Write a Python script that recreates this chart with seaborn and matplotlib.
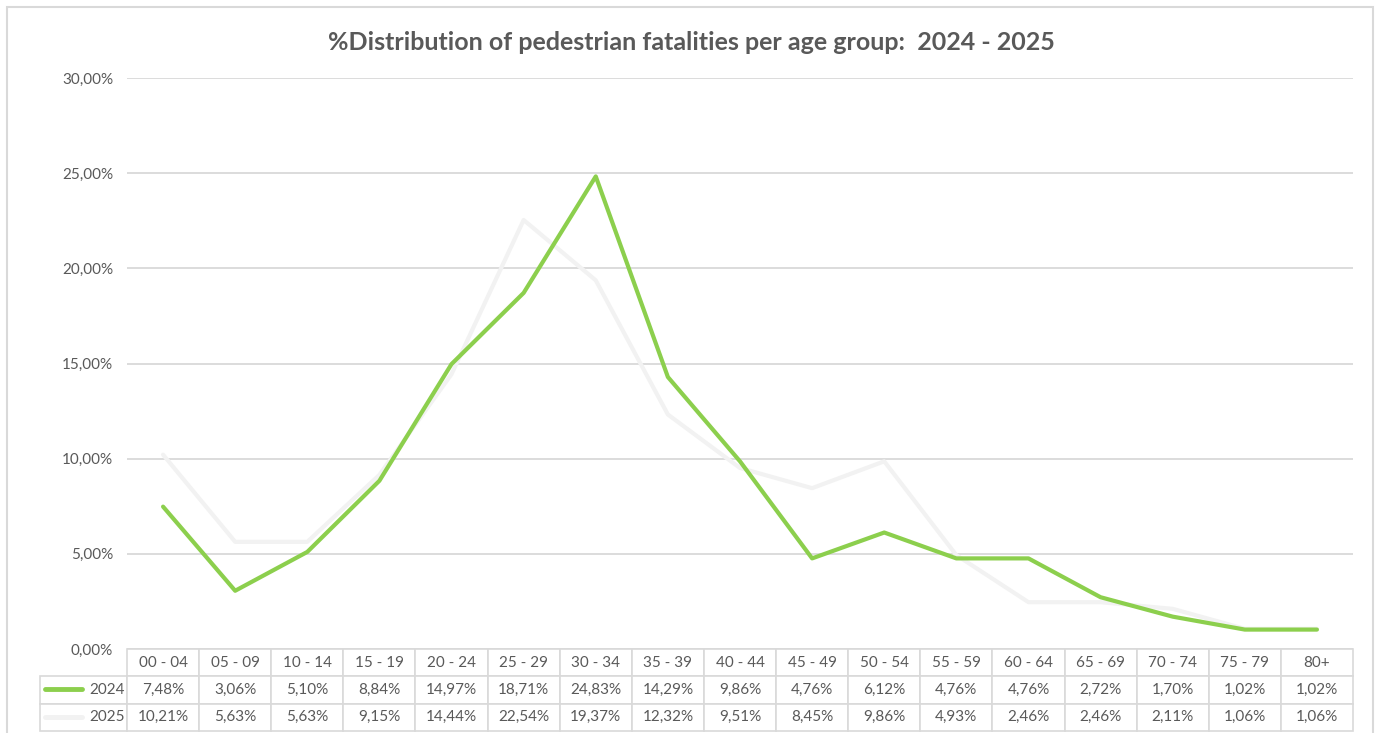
import matplotlib
matplotlib.use("Agg")
import matplotlib.pyplot as plt
from matplotlib.lines import Line2D
from matplotlib.patches import Rectangle
import matplotlib.ticker as mtick
import seaborn as sns
import pandas as pd

age_groups = ["00 - 04", "05 - 09", "10 - 14", "15 - 19", "20 - 24", "25 - 29", "30 - 34",
              "35 - 39", "40 - 44", "45 - 49", "50 - 54", "55 - 59", "60 - 64", "65 - 69",
              "70 - 74", "75 - 79", "80+"]
pct_2024 = [7.48, 3.06, 5.10, 8.84, 14.97, 18.71, 24.83, 14.29, 9.86, 4.76, 6.12, 4.76,
            4.76, 2.72, 1.70, 1.02, 1.02]
pct_2025 = [10.21, 5.63, 5.63, 9.15, 14.44, 22.54, 19.37, 12.32, 9.51, 8.45, 9.86, 4.93,
            2.46, 2.46, 2.11, 1.06, 1.06]
years = ["2024", "2025"]
colors = {"2024": "#8ccf4d", "2025": "#f2f2f2"}

sns.set_theme(style="white")
plt.rcParams['font.family'] = ['Lato', 'DejaVu Sans']
txt = "#595959"
grid = "#d9d9d9"

df = pd.DataFrame({"pos": list(range(len(age_groups))) * 2,
                   "val": pct_2024 + pct_2025,
                   "year": [years[0]] * len(age_groups) + [years[1]] * len(age_groups)})

W, H = 1379, 733
fig = plt.figure(figsize=(W / 100, H / 100), dpi=100)
ax = fig.add_axes([127 / W, 1 - 649 / H, (1353 - 127) / W, (649 - 78) / H])

# border of the chart area
fig.patches.append(Rectangle((7 / W, -0.05), (1373 - 7) / W, 1.05 - 7 / H,
                             transform=fig.transFigure, fill=False,
                             edgecolor=grid, linewidth=1.5))

sns.lineplot(data=df, x="pos", y="val", hue="year", hue_order=["2025", "2024"],
             palette=colors, linewidth=3, ax=ax, legend=False, zorder=3)

ax.set_xlim(-0.5, len(age_groups) - 0.5)
ax.set_ylim(0, 30)
ax.set_yticks([0, 5, 10, 15, 20, 25, 30])
ax.yaxis.set_major_formatter(mtick.FuncFormatter(lambda v, p: f"{v:.2f}%".replace(".", ",")))
ax.tick_params(axis="y", colors=txt, labelsize=11, length=0, pad=10)
ax.set_xticks([])
ax.set_xlabel("")
ax.set_ylabel("")
for s in ax.spines.values():
    s.set_visible(False)
ax.yaxis.grid(True, color=grid, linewidth=1.3)
ax.set_axisbelow(True)

# data table under the plot; first column holds the series names
fmt = lambda v: f"{v:.2f}%".replace(".", ",")
rows = [[years[0]] + [fmt(v) for v in pct_2024], [years[1]] + [fmt(v) for v in pct_2025]]
ax_w = 1353 - 127
ax_h = 649 - 78
lab_w = 87
col_w = ax_w / len(age_groups)
tb = ax.table(cellText=rows, colLabels=[""] + age_groups, cellLoc="center",
              bbox=[-lab_w / ax_w, -(731 - 649) / ax_h, 1 + lab_w / ax_w, (731 - 649) / ax_h])
tb.auto_set_font_size(False)
for (r, c), cell in tb.get_celld().items():
    cell.set_width(lab_w if c == 0 else col_w)
    cell.set_edgecolor(grid)
    cell.set_linewidth(1.2)
    cell.get_text().set_color(txt)
    cell.get_text().set_fontsize(11)
    if c == 0:
        cell.get_text().set_horizontalalignment("right")
        cell.PAD = 0.02
        if r == 0:
            cell.set_edgecolor("none")

# legend keys inside the row label cells
for i, yr in enumerate(years):
    yc = 1 - (689 + 28 * i) / H
    fig.lines.append(Line2D([45 / W, 82 / W], [yc, yc], transform=fig.transFigure,
                            color=colors[yr], linewidth=3.5, solid_capstyle="round"))

fig.text(691 / W, 1 - 42 / H, "%Distribution of pedestrian fatalities per age group:  2024 - 2025",
         ha="center", va="center", fontsize=18, fontweight="bold", color=txt)

fig.savefig("out.png", dpi=100)
